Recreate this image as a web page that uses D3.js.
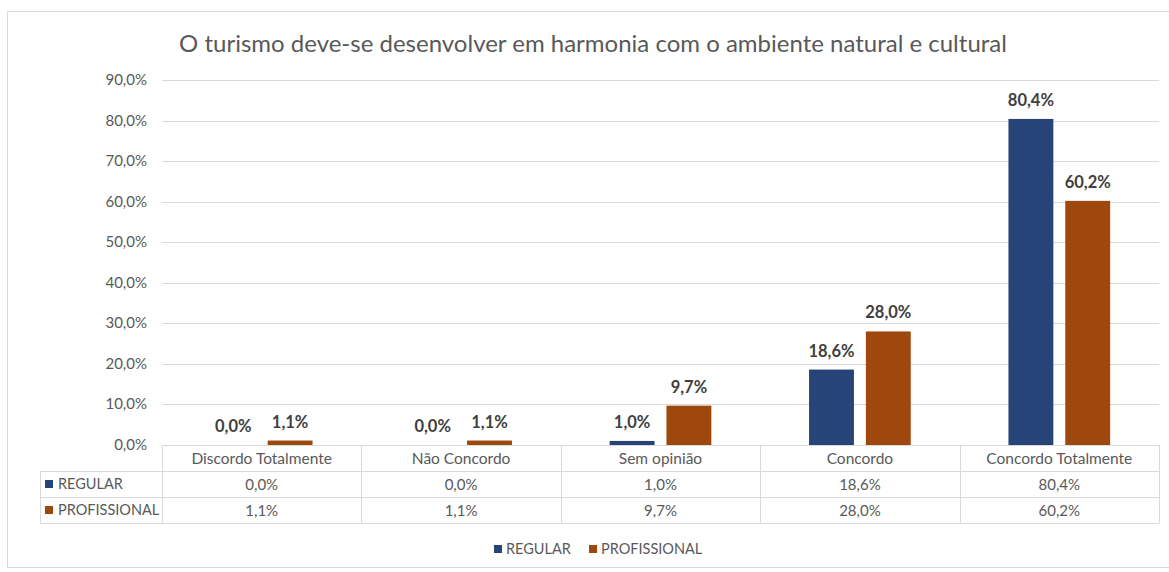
<!DOCTYPE html>
<html>
<head>
<meta charset="utf-8">
<script src="https://cdn.jsdelivr.net/npm/d3@7"></script>
<style>
  body { margin: 0; background: #fff; }
  svg { font-family: Lato, "Open Sans", sans-serif; }
</style>
</head>
<body>
<svg id="chart" width="1169" height="572"></svg>
<script>
var categories = ["Discordo Totalmente", "Não Concordo", "Sem opinião", "Concordo", "Concordo Totalmente"];
var seriesNames = ["REGULAR", "PROFISSIONAL"];
var regular = [0.0, 0.0, 1.0, 18.6, 80.4];
var profissional = [1.1, 1.1, 9.7, 28.0, 60.2];
var yTicks = [0, 10, 20, 30, 40, 50, 60, 70, 80, 90];
var title = "O turismo deve-se desenvolver em harmonia com o ambiente natural e cultural";

var colors = ["#264478", "#9e480e"];
var series = [regular, profissional];

var svg = d3.select("#chart");
var fmt = function(v) { return v.toFixed(1).replace(".", ",") + "%"; };

// outer frame
svg.append("rect")
  .attr("x", 7.5).attr("y", 11.5)
  .attr("width", 1170).attr("height", 556)
  .attr("fill", "none").attr("stroke", "#d9d9d9");

svg.append("text")
  .attr("x", 593).attr("y", 52)
  .attr("text-anchor", "middle")
  .attr("font-size", 24)
  .attr("fill", "#595959")
  .text(title);

var plotLeft = 162, plotRight = 1159, plotTop = 80, plotBottom = 445;

var x = d3.scaleBand().domain(categories).range([plotLeft, plotRight]);
var y = d3.scaleLinear().domain([0, 90]).range([plotBottom, plotTop]);
var inner = d3.scaleBand().domain(seriesNames)
  .range([x.bandwidth() * 0.245, x.bandwidth() * 0.755])
  .paddingInner(0.21);

// gridlines
svg.append("g").selectAll("line")
  .data(yTicks.slice(1))
  .enter().append("line")
  .attr("x1", plotLeft).attr("x2", plotRight)
  .attr("y1", function(d) { return Math.round(y(d)) + 0.5; })
  .attr("y2", function(d) { return Math.round(y(d)) + 0.5; })
  .attr("stroke", "#d9d9d9");

// y tick labels
svg.append("g").selectAll("text")
  .data(yTicks)
  .enter().append("text")
  .attr("x", 147)
  .attr("y", function(d) { return y(d) + 5; })
  .attr("text-anchor", "end")
  .attr("font-size", 15)
  .attr("fill", "#595959")
  .text(function(d) { return fmt(d); });

// bars
series.forEach(function(vals, si) {
  var g = svg.append("g");
  g.selectAll("rect")
    .data(vals)
    .enter().append("rect")
    .attr("x", function(d, i) { return x(categories[i]) + inner(seriesNames[si]); })
    .attr("width", inner.bandwidth())
    .attr("y", function(d) { return y(d); })
    .attr("height", function(d) { return plotBottom - y(d); })
    .attr("fill", colors[si]);
  g.selectAll("text")
    .data(vals)
    .enter().append("text")
    .attr("x", function(d, i) { return x(categories[i]) + inner(seriesNames[si]) + inner.bandwidth() / 2; })
    .attr("y", function(d) { return y(d) - 13; })
    .attr("text-anchor", "middle")
    .attr("font-size", 16.5)
    .attr("font-weight", "bold")
    .attr("fill", "#404040")
    .text(function(d) { return fmt(d); });
});

// data table
var tableLeft = 40, rowH = 26;
var rowY = [plotBottom, plotBottom + rowH, plotBottom + 2 * rowH, plotBottom + 3 * rowH];
var tg = svg.append("g").attr("stroke", "#d9d9d9").attr("fill", "none");
tg.append("line").attr("x1", plotLeft).attr("x2", plotRight).attr("y1", rowY[0] + 0.5).attr("y2", rowY[0] + 0.5);
[1, 2, 3].forEach(function(r) {
  tg.append("line").attr("x1", tableLeft).attr("x2", plotRight)
    .attr("y1", rowY[r] + 0.5).attr("y2", rowY[r] + 0.5);
});
tg.append("line").attr("x1", tableLeft + 0.5).attr("x2", tableLeft + 0.5)
  .attr("y1", rowY[1]).attr("y2", rowY[3]);
categories.concat([null]).forEach(function(c, i) {
  var xx = c ? x(c) : plotRight;
  tg.append("line").attr("x1", Math.round(xx) + 0.5).attr("x2", Math.round(xx) + 0.5)
    .attr("y1", rowY[0]).attr("y2", rowY[3]);
});

svg.append("g").selectAll("text")
  .data(categories)
  .enter().append("text")
  .attr("x", function(d) { return x(d) + x.bandwidth() / 2; })
  .attr("y", rowY[0] + 19)
  .attr("text-anchor", "middle")
  .attr("font-size", 15.5)
  .attr("fill", "#595959")
  .text(function(d) { return d; });

series.forEach(function(vals, si) {
  var ry = rowY[si + 1];
  svg.append("rect").attr("x", 45).attr("y", ry + 9).attr("width", 8).attr("height", 8).attr("fill", colors[si]);
  svg.append("text").attr("x", 58).attr("y", ry + 18)
    .attr("font-size", 14.5).attr("fill", "#595959").text(seriesNames[si]);
  svg.append("g").selectAll("text")
    .data(vals)
    .enter().append("text")
    .attr("x", function(d, i) { return x(categories[i]) + x.bandwidth() / 2; })
    .attr("y", ry + 19)
    .attr("text-anchor", "middle")
    .attr("font-size", 15)
    .attr("fill", "#595959")
    .text(function(d) { return fmt(d); });
});

// legend
var legendX = [494, 589];
seriesNames.forEach(function(name, si) {
  svg.append("rect").attr("x", legendX[si]).attr("y", 545).attr("width", 8).attr("height", 8).attr("fill", colors[si]);
  svg.append("text").attr("x", legendX[si] + 12).attr("y", 554)
    .attr("font-size", 14.5).attr("fill", "#595959").text(name);
});
</script>
</body>
</html>
